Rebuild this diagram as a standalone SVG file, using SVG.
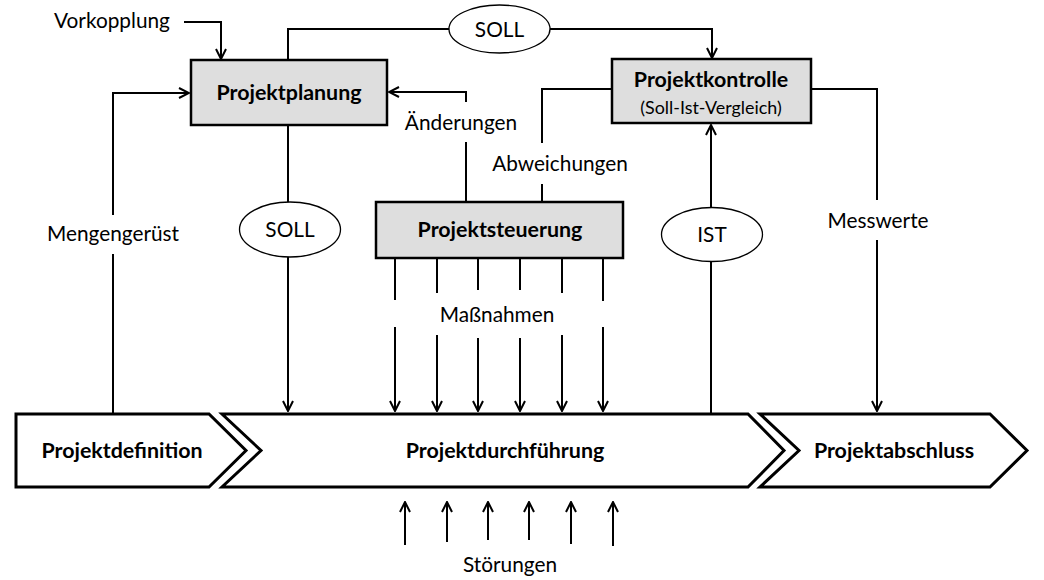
<svg xmlns="http://www.w3.org/2000/svg" width="1044" height="580" viewBox="0 0 1044 580">
<style>
  text { font-family: Lato, "Open Sans", "Liberation Sans", sans-serif; fill: #000; text-anchor: middle; }
  .b { font-weight: bold; font-size: 21.4px; }
  .r { font-size: 20.8px; }
  .s { font-size: 17.9px; }
  .box { fill: #dedede; stroke: #000; stroke-width: 2.5; }
  .chev { fill: #fff; stroke: #000; stroke-width: 3; stroke-linejoin: miter; }
  .ell { fill: #fff; stroke: #000; stroke-width: 1.3; }
  .c { fill: none; stroke: #000; stroke-width: 2; }
  .a { fill: none; stroke: #000; stroke-width: 2; marker-end: url(#arr); }
</style>
<defs>
  <marker id="arr" viewBox="0 0 12 12" refX="11" refY="6" markerWidth="12" markerHeight="12" markerUnits="userSpaceOnUse" orient="auto">
    <path d="M1,1 L11,6 L1,11" fill="none" stroke="#000" stroke-width="2"/>
  </marker>
</defs>
<rect width="1044" height="580" fill="#fff"/>

<g id="connectors">
  <path class="a" d="M184,22 H221 V59"/>
  <path class="c" d="M288,60 V29 H449"/>
  <path class="a" d="M550,29 H712 V58"/>
  <path class="c" d="M612,89 H542 V143"/>
  <path class="c" d="M542,184 V202"/>
  <path class="c" d="M466,202 V142"/>
  <path class="a" d="M466,102 V92 H389"/>
  <path class="c" d="M113,413 V254"/>
  <path class="a" d="M113,215 V93 H189"/>
  <path class="c" d="M288,125 V202"/>
  <path class="a" d="M288,257 V411"/>
  <path class="c" d="M711,413 V262"/>
  <path class="a" d="M711,207 V125"/>
  <path class="c" d="M811,89 H877 V200"/>
  <path class="a" d="M877,240 V411"/>
  <g id="massnahmen">
    <path class="c" d="M395,258 V300"/><path class="a" d="M395,327 V411"/>
    <path class="c" d="M437,258 V293"/><path class="a" d="M437,335 V411"/>
    <path class="c" d="M478,258 V290"/><path class="a" d="M478,338 V411"/>
    <path class="c" d="M520,258 V290"/><path class="a" d="M520,338 V411"/>
    <path class="c" d="M562,258 V293"/><path class="a" d="M562,335 V411"/>
    <path class="c" d="M603,258 V301"/><path class="a" d="M603,327 V411"/>
  </g>
  <g id="stoerungen">
    <path class="a" d="M405,545 V502"/>
    <path class="a" d="M447,542 V502"/>
    <path class="a" d="M488,540 V502"/>
    <path class="a" d="M529,540 V502"/>
    <path class="a" d="M571,544 V502"/>
    <path class="a" d="M613,546 V502"/>
  </g>
</g>

<g id="label-vorkopplung"><text class="r" x="112" y="28">Vorkopplung</text></g>
<g id="label-mengengeruest"><text class="r" x="113" y="241">Mengengerüst</text></g>
<g id="label-aenderungen"><text class="r" x="461" y="130">Änderungen</text></g>
<g id="label-abweichungen"><text class="r" x="560" y="171">Abweichungen</text></g>
<g id="label-massnahmen"><text class="r" x="497" y="322">Maßnahmen</text></g>
<g id="label-messwerte"><text class="r" x="878" y="228">Messwerte</text></g>
<g id="label-stoerungen"><text class="r" x="510" y="572">Störungen</text></g>

<g id="soll-top">
  <ellipse class="ell" cx="499.5" cy="29" rx="50.5" ry="24"/>
  <text class="r" x="499.5" y="36.5">SOLL</text>
</g>
<g id="soll-mid">
  <ellipse class="ell" cx="290" cy="229.5" rx="50.5" ry="27.5"/>
  <text class="r" x="290" y="236.5">SOLL</text>
</g>
<g id="ist">
  <ellipse class="ell" cx="712" cy="234.5" rx="50.5" ry="27"/>
  <text class="r" x="712" y="241.5">IST</text>
</g>

<g id="projektplanung">
  <rect class="box" x="191" y="60" width="196" height="65"/>
  <text class="b" x="289" y="100">Projektplanung</text>
</g>
<g id="projektkontrolle">
  <rect class="box" x="612" y="59" width="199" height="64"/>
  <text class="b" x="711" y="86.5">Projektkontrolle</text>
  <text class="s" x="711" y="114">(Soll-Ist-Vergleich)</text>
</g>
<g id="projektsteuerung">
  <rect class="box" x="376" y="202" width="247" height="56"/>
  <text class="b" x="500" y="237">Projektsteuerung</text>
</g>

<g id="projektdefinition">
  <polygon class="chev" points="16,414 209,414 246,450.5 209,487 16,487"/>
  <text class="b" x="122" y="458">Projektdefinition</text>
</g>
<g id="projektdurchfuehrung">
  <polygon class="chev" points="222,414 748,414 784,450.5 748,487 222,487 261,450.5"/>
  <text class="b" x="505" y="458">Projektdurchführung</text>
</g>
<g id="projektabschluss">
  <polygon class="chev" points="760,414 990,414 1027,450.5 990,487 760,487 799,450.5"/>
  <text class="b" x="894" y="458">Projektabschluss</text>
</g>
</svg>
